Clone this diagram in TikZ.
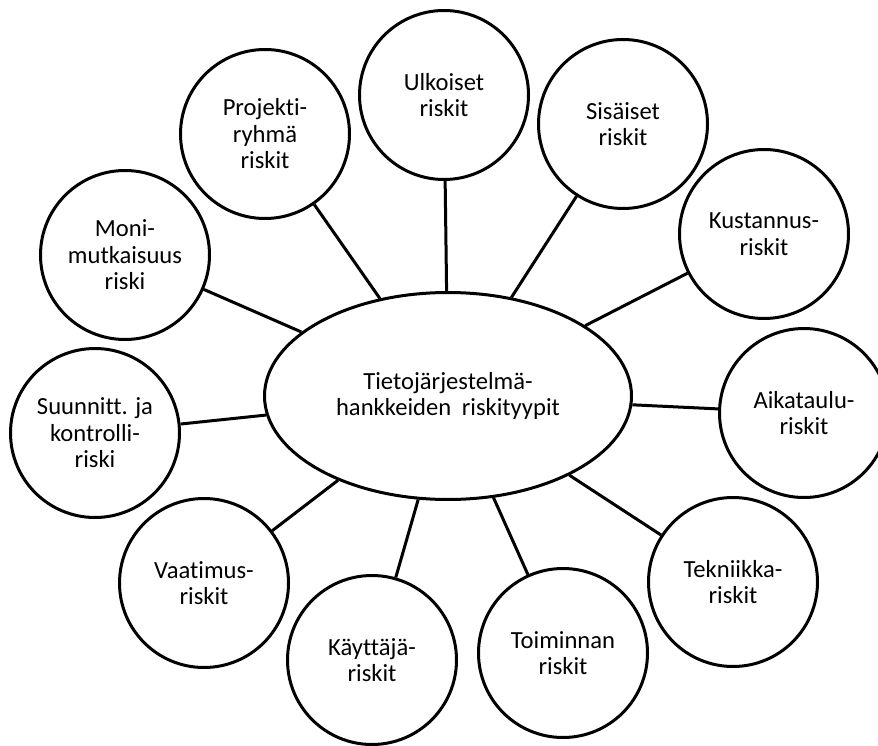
\documentclass[tikz,border=0pt]{standalone}
\usepackage{fontspec}
\setmainfont[Ligatures=NoCommon]{Carlito}
\usetikzlibrary{shapes.geometric}
\begin{document}
\begin{tikzpicture}[x=1pt,y=-1pt,
  every node/.style={font=\fontsize{24.6}{26.5}\selectfont, align=center, inner sep=0pt},
  risk/.style={circle, draw=black, line width=3pt, fill=white, minimum size=169pt},
  hub/.style={ellipse, draw=black, line width=3pt, fill=white, minimum width=367pt, minimum height=207pt},
  link/.style={draw=black, line width=3pt}]
\useasboundingbox (0,0) rectangle (878,746);
\fill[white] (0,0) rectangle (878,746);

% central topic
\node[hub] (hub) at (448,396) {Tietojärjestelmä-\\hankkeiden\hspace{5pt} riskityypit};

% surrounding risk types
\node[risk] (ulk)  at (444,95)  {Ulkoiset\\riskit};
\node[risk] (proj) at (265,134) {Projekti-\\ryhmä\\riskit};
\node[risk] (sis)  at (623,124) {Sisäiset\\riskit};
\node[risk] (moni) at (125,255) {Moni-\\mutkaisuus\\riski};
\node[risk] (kust) at (764,234) {Kustannus-\\riskit};
\node[risk] (suun) at (95,433)  {Suunnitt. ja\\kontrolli-\\riski};
\node[risk] (aika) at (804,413) {Aikataulu-\\riskit};
\node[risk] (vaat) at (204,583) {Vaatimus-\\riskit};
\node[risk] (kayt) at (372,660) {Käyttäjä-\\riskit};
\node[risk] (toim) at (563,653) {Toiminnan\\riskit};
\node[risk] (tekn) at (733,582) {Tekniikka-\\riskit};

% spokes from the centre to every risk type
\foreach \n in {ulk,proj,sis,moni,kust,suun,aika,vaat,kayt,toim,tekn}
  \draw[link] (hub) -- (\n);
\end{tikzpicture}
\end{document}
